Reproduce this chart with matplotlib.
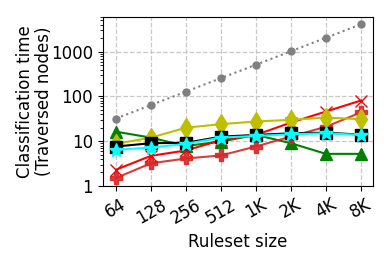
import matplotlib
matplotlib.use("Agg")
import matplotlib.pyplot as plt
import numpy as np

sizes = ["64", "128", "256", "512", "1K", "2K", "4K", "8K"]
linear = [32, 64, 128, 256, 512, 1024, 2048, 4096]
red_x = [2.3, 4.7, 6.2, 10.5, 13.8, 26, 46, 81]
red_plus = [1.5, 3.2, 4.1, 4.8, 7.6, 12.7, 21, 44]
yellow_d = [8.7, 12, 20, 24, 27.5, 30, 33.6, 31]
green_t = [16.3, 12, 7.8, 9.8, 13.8, 9, 5.2, 5.2]
black_s = [7.6, 9, 9.2, 12.6, 13.8, 15, 15.5, 14]
cyan_s = [6.4, 7.2, 8.7, 12, 13.1, 14.3, 15, 13.8]

fig = plt.figure(figsize=(3.9, 2.6), dpi=100)
ax = fig.add_axes([0.264, 0.285, 0.692, 0.65])
x = np.arange(len(sizes))

ax.plot(x, linear, color="gray", linestyle=":", marker="o", markersize=5)
ax.plot(x, green_t, color="green", marker="^", markersize=9)
ax.plot(x, red_plus, color="tab:red", marker="P", markersize=9, alpha=0.9)
ax.plot(x, red_x, color="red", marker="x", markersize=9, markeredgewidth=1)
ax.plot(x, yellow_d, color="y", marker="d", markersize=10)
ax.plot(x, black_s, color="black", marker="s", markersize=9,
        markerfacecolor="black", markeredgecolor="black")
ax.plot(x, cyan_s, color="cyan", marker="*", markersize=10)

ax.set_yscale("log")
ax.set_ylim(1, 6000)
ax.set_xlim(-0.37, 7.34)
ax.set_yticks([1, 10, 100, 1000])
ax.set_yticklabels(["1", "10", "100", "1000"])
ax.set_xticks(x)
ax.set_xticklabels(sizes, rotation=30)
ax.tick_params(labelsize=12)
ax.grid(True, which="major", linestyle="--", color="#c8c8c8", linewidth=0.9)
ax.set_xlabel("Ruleset size", fontsize=12)
ax.set_ylabel("Classification time\n(Traversed nodes)", fontsize=12,
              labelpad=-1.5, linespacing=1.05)

fig.savefig("out.png", dpi=100)
